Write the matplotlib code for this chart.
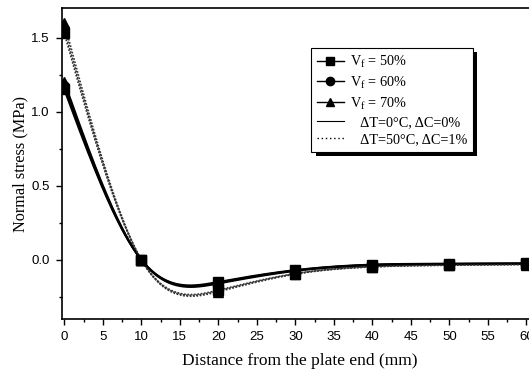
import numpy as np
import matplotlib
matplotlib.use("Agg")
import matplotlib.pyplot as plt
from matplotlib.lines import Line2D
from matplotlib.patches import Rectangle
from matplotlib.ticker import MultipleLocator, FormatStrFormatter

distance = [0, 10, 20, 30, 40, 50, 60]
# dT=0, dC=0 (solid)
solid_50 = [1.15, 0.0, -0.150, -0.070, -0.033, -0.027, -0.025]
solid_60 = [1.17, 0.0, -0.155, -0.072, -0.035, -0.028, -0.025]
solid_70 = [1.20, 0.0, -0.160, -0.075, -0.036, -0.029, -0.026]
# dT=50, dC=1% (dotted)
dot_50 = [1.53, 0.0, -0.205, -0.093, -0.046, -0.035, -0.030]
dot_60 = [1.56, 0.0, -0.210, -0.095, -0.047, -0.036, -0.031]
dot_70 = [1.60, 0.0, -0.215, -0.097, -0.048, -0.037, -0.032]

legend_labels = [r"V$_{\rm f}$ = 50%", r"V$_{\rm f}$ = 60%", r"V$_{\rm f}$ = 70%",
                 "   ΔT=0°C, ΔC=0%", "   ΔT=50°C, ΔC=1%"]


def natural_spline(x, y, xs):
    x = np.asarray(x, float); y = np.asarray(y, float)
    n = len(x)
    h = np.diff(x)
    A = np.zeros((n, n)); b = np.zeros(n)
    A[0, 0] = 1; A[-1, -1] = 1
    for i in range(1, n - 1):
        A[i, i - 1] = h[i - 1]; A[i, i] = 2 * (h[i - 1] + h[i]); A[i, i + 1] = h[i]
        b[i] = 3 * ((y[i + 1] - y[i]) / h[i] - (y[i] - y[i - 1]) / h[i - 1])
    c = np.linalg.solve(A, b)
    out = np.empty_like(xs)
    for k, xv in enumerate(xs):
        i = min(max(np.searchsorted(x, xv) - 1, 0), n - 2)
        d = (c[i + 1] - c[i]) / (3 * h[i])
        bb = (y[i + 1] - y[i]) / h[i] - h[i] * (2 * c[i] + c[i + 1]) / 3
        t = xv - x[i]
        out[k] = y[i] + bb * t + c[i] * t ** 2 + d * t ** 3
    return out


plt.rcParams['font.family'] = 'Liberation Sans'
plt.rcParams['mathtext.fontset'] = 'custom'
plt.rcParams['mathtext.rm'] = 'Liberation Serif'
fig = plt.figure(figsize=(5.29, 3.72), dpi=100)
ax = fig.add_axes([62 / 529, 1 - 319 / 372, 476 / 529, (319 - 8) / 372])

xs = np.linspace(0, 60, 600)
markers = ['s', 'o', '^']
for m, sv, dv in zip(markers, [solid_50, solid_60, solid_70], [dot_50, dot_60, dot_70]):
    ax.plot(xs, natural_spline(distance, sv, xs), color='black', lw=1.5, zorder=2)
    ax.plot(xs, natural_spline(distance, dv, xs), color='#333333', lw=1.2,
            linestyle=(0, (1, 1)), zorder=2)
for m, sv, dv in zip(markers, [solid_50, solid_60, solid_70], [dot_50, dot_60, dot_70]):
    ax.plot(distance, sv, linestyle='none', marker=m, color='black', ms=7, zorder=3)
    ax.plot(distance, dv, linestyle='none', marker=m, color='black', ms=7, zorder=3)

ax.set_xlim(-0.3, 61.5)
ax.set_ylim(-0.40, 1.70)
ax.xaxis.set_major_locator(MultipleLocator(5))
ax.xaxis.set_minor_locator(MultipleLocator(2.5))
ax.yaxis.set_major_locator(MultipleLocator(0.5))
ax.yaxis.set_minor_locator(MultipleLocator(0.25))
ax.set_yticks([0.0, 0.5, 1.0, 1.5])
ax.yaxis.set_major_formatter(FormatStrFormatter('%.1f'))
ax.tick_params(which='both', direction='out', labelsize=9.5, width=1)
ax.tick_params(which='major', length=4, pad=5)
ax.tick_params(which='minor', length=2.5)
for s in ax.spines.values():
    s.set_linewidth(1.2)

ax.set_xlabel("Distance from the plate end (mm)", family='Liberation Serif', fontsize=12.5,
              labelpad=7)
ax.set_ylabel("Normal stress (MPa)", family='Liberation Serif', fontsize=11.7, labelpad=2)

handles = [Line2D([], [], color='black', marker='s', ms=6, lw=1),
           Line2D([], [], color='black', marker='o', ms=6, lw=1),
           Line2D([], [], color='black', marker='^', ms=6, lw=1),
           Line2D([], [], color='black', lw=0.8),
           Line2D([], [], color='black', lw=1, linestyle=(0, (1, 2)))]
leg = fig.legend(handles, legend_labels, loc='upper left',
                 bbox_to_anchor=(311 / 529, 1 - 48 / 372), bbox_transform=fig.transFigure,
                 fancybox=False, shadow=False,
                 edgecolor='black', framealpha=1, handlelength=1.9, handletextpad=0.4,
                 borderpad=0.4, borderaxespad=0,
                 prop={'family': 'Liberation Serif', 'size': 10.3}, labelspacing=0.3)
leg.get_frame().set_linewidth(0.8)
leg.set_zorder(6)

fig.canvas.draw()
bb = leg.get_window_extent()
W, H = fig.bbox.width, fig.bbox.height
shadow = Rectangle(((bb.x0 + 4.5) / W, (bb.y0 - 4.5) / H), bb.width / W, bb.height / H,
                   transform=fig.transFigure, facecolor='black', edgecolor='none', zorder=5)
fig.add_artist(shadow)

fig.savefig("out.png", dpi=100)
